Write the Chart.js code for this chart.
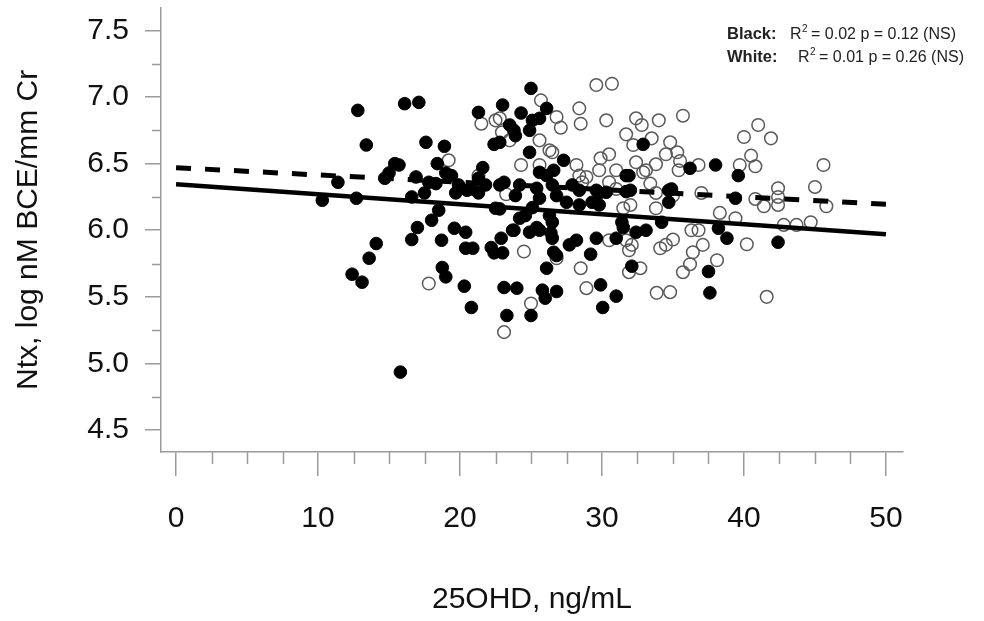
<!DOCTYPE html>
<html>
<head>
<meta charset="utf-8">
<title>Ntx vs 25OHD</title>
<script src="https://cdn.jsdelivr.net/npm/chart.js@4.4.1/dist/chart.umd.min.js"></script>
<style>
    html, body { margin: 0; padding: 0; background: #fff; }
    #chart { display: block; }
</style>
</head>
<body>
<canvas id="chart" width="984" height="621"></canvas>
<script>
// Axis ticks
const xTicks = [0, 10, 20, 30, 40, 50];
const xMinorTicks = [2.5, 5, 7.5, 12.5, 15, 17.5, 22.5, 25, 27.5, 32.5, 35, 37.5, 42.5, 45, 47.5];
const yTicks = [4.5, 5.0, 5.5, 6.0, 6.5, 7.0, 7.5];
const yMinorTicks = [4.75, 5.25, 5.75, 6.25, 6.75, 7.25];

// Black participants (filled circles)
const blackX = [12.8, 16.1, 17.1, 21.3, 13.4, 17.6, 18.9, 22.4, 15.4, 15.7, 18.4, 21.6, 15.0, 14.7, 11.4, 16.9, 19.0, 19.4, 17.8, 18.3,
    17.5, 19.7, 19.9, 20.5, 20.9, 21.3, 10.3, 12.7, 16.6, 18.5, 18.0, 17.0, 19.6, 20.4, 22.5, 21.3, 21.8, 16.6, 14.1, 13.6,
    12.4, 13.1, 18.7, 20.4, 20.9, 22.2, 22.4, 18.75, 19.0, 20.3, 20.8, 15.8, 23.8, 25.4, 26.4, 26.5, 27.7, 28.2, 26.6, 26.8,
    29.2, 29.6, 31.0, 31.5, 32.4, 22.9, 23.0, 26.1, 32.1, 23.1, 24.0, 25.8, 26.0, 26.8, 23.3, 25.0, 29.9, 31.0, 30.05, 38.2,
    38.8, 42.4, 37.5, 37.6, 25.0, 23.0, 24.3, 26.1, 23.5, 23.8, 23.9, 25.1, 25.6, 24.9, 22.8, 24.9, 27.3, 25.6, 26.1, 26.6,
    31.7, 31.9, 32.9, 36.2, 23.1, 22.8, 24.2, 25.4, 27.9, 28.4, 26.5, 26.8, 29.6, 29.8, 30.3, 31.7, 32.0, 34.7, 34.9, 34.7,
    23.9, 25.6, 27.5, 29.3, 29.8, 28.4, 25.1, 24.6, 24.2, 22.8, 26.3, 26.5, 31.4, 34.2, 23.7, 24.9, 25.6, 33.1, 38.0, 39.6,
    39.4];
const blackY = [6.90, 6.95, 6.96, 6.885, 6.64, 6.66, 6.63, 6.645, 6.50, 6.49, 6.50, 6.47, 6.43, 6.39, 6.36, 6.40, 6.43, 6.41, 6.36, 6.35,
    6.28, 6.28, 6.34, 6.30, 6.31, 6.28, 6.225, 6.24, 6.25, 6.15, 6.075, 6.02, 6.015, 5.985, 6.165, 6.39, 6.34, 5.93, 5.90, 5.79,
    5.67, 5.61, 5.925, 5.865, 5.865, 5.87, 5.83, 5.72, 5.65, 5.58, 5.42, 4.935, 6.0, 6.02, 5.98, 5.94, 5.89, 5.925, 5.835, 5.81,
    5.82, 5.94, 5.94, 6.02, 5.985, 5.94, 5.83, 5.715, 5.73, 5.57, 5.565, 5.55, 5.49, 5.54, 5.36, 5.36, 5.59, 5.505, 5.42, 6.015,
    5.94, 5.91, 5.69, 5.53, 7.065, 6.94, 6.88, 6.915, 6.79, 6.75, 6.71, 6.825, 6.84, 6.75, 6.66, 6.585, 6.525, 6.435, 6.41, 6.45,
    6.41, 6.41, 6.645, 6.465, 6.36, 6.34, 6.34, 6.315, 6.34, 6.30, 6.34, 6.26, 6.30, 6.28, 6.285, 6.29, 6.30, 6.30, 6.31, 6.21,
    6.26, 6.24, 6.21, 6.21, 6.19, 6.19, 6.17, 6.11, 6.09, 6.16, 6.11, 6.06, 6.06, 6.06, 6.0, 5.985, 6.0, 6.0, 6.49, 6.41,
    6.24];

// White participants (open circles)
const whiteX = [17.8, 24.5, 26.8, 28.5, 28.9, 25.0, 23.1, 30.5, 31.7, 32.1, 31.9, 32.7, 31.9, 33.85, 34.8, 34.1, 34.5, 35.0, 35.7, 36.2,
    36.4, 37.1, 38.1, 40.2, 41.6, 29.6, 30.7, 28.4, 25.7, 26.8, 27.1, 22.8, 28.5, 30.3, 32.4, 32.8, 34.0, 35.7, 31.7, 33.5,
    32.2, 34.8, 35.3, 34.5, 35.5, 25.6, 26.3, 26.5, 23.5, 22.95, 29.9, 30.5, 32.4, 33.1, 33.8, 24.3, 25.6, 28.2, 28.9, 29.8,
    31.0, 32.9, 35.4, 32.0, 33.8, 35.0, 23.25, 31.5, 36.3, 41.0, 40.0, 41.9, 40.5, 39.7, 40.8, 45.6, 45.0, 42.4, 42.4, 42.4,
    40.8, 41.4, 45.8, 38.3, 39.4, 42.8, 43.7, 44.7, 36.8, 37.0, 36.8, 21.5, 22.5, 19.2, 21.3, 28.4, 30.5, 31.0, 33.4, 33.8,
    28.6];
const whiteY = [5.60, 5.84, 5.79, 5.715, 5.565, 5.45, 5.235, 5.925, 5.925, 5.89, 5.85, 5.715, 5.685, 5.53, 5.535, 5.865, 5.89, 5.93, 5.685, 5.745,
    5.835, 5.89, 5.775, 5.895, 5.50, 7.09, 7.10, 6.915, 6.975, 6.85, 6.77, 6.84, 6.80, 6.825, 6.84, 6.79, 6.825, 6.86, 6.72, 6.69,
    6.64, 6.66, 6.585, 6.57, 6.52, 6.675, 6.60, 6.585, 6.675, 6.735, 6.54, 6.57, 6.51, 6.45, 6.495, 6.49, 6.49, 6.49, 6.40, 6.45,
    6.45, 6.435, 6.45, 6.19, 6.165, 6.26, 6.27, 6.165, 6.0, 6.79, 6.70, 6.69, 6.56, 6.49, 6.48, 6.49, 6.325, 6.315, 6.25, 6.19,
    6.235, 6.18, 6.18, 6.13, 6.09, 6.04, 6.04, 6.06, 6.49, 6.28, 6.0, 6.80, 6.825, 6.525, 6.41, 6.41, 6.36, 6.31, 6.35, 6.28,
    6.36];

// Regression lines (end points at x = 0 and x = 50)
const fitX = [0, 50];
const solidFitY = [6.345, 5.97];
const dashedFitY = [6.47, 6.195];

const AXIS_COLOR = '#9b9b9b';
const TEXT_COLOR = '#111111';
const FONT = "'Liberation Sans', Arial, sans-serif";

function toPoints(xs, ys) {
    return xs.map((x, i) => ({ x: x, y: ys[i] }));
}

// Minor ticks and the R² notes
const extrasPlugin = {
    id: 'extras',
    afterDraw(chart) {
        const ctx = chart.ctx;
        const xScale = chart.scales.x;
        const yScale = chart.scales.y;

        ctx.save();
        ctx.strokeStyle = AXIS_COLOR;
        ctx.lineWidth = 1.5;
        ctx.beginPath();
        xMinorTicks.forEach(v => {
            const px = Math.round(xScale.getPixelForValue(v)) + 0.5;
            ctx.moveTo(px, xScale.top);
            ctx.lineTo(px, xScale.top + 12);
        });
        yMinorTicks.forEach(v => {
            const py = Math.round(yScale.getPixelForValue(v)) + 0.5;
            ctx.moveTo(yScale.right, py);
            ctx.lineTo(yScale.right - 9, py);
        });
        ctx.stroke();

        // Stats text
        ctx.fillStyle = '#222';
        ctx.textBaseline = 'alphabetic';
        const rows = [
            { label: 'Black:', rx: 790, y: 38.5, rest: ' = 0.02 p = 0.12 (NS)', end: 970 },
            { label: 'White:', rx: 798, y: 62, rest: ' = 0.01 p = 0.26 (NS)', end: 976 }
        ];
        rows.forEach(r => {
            ctx.font = 'bold 16.5px ' + FONT;
            ctx.fillText(r.label, 727, r.y, 52);
            ctx.font = '16px ' + FONT;
            ctx.fillText('R', r.rx, r.y);
            const rw = ctx.measureText('R').width;
            ctx.font = '10px ' + FONT;
            ctx.fillText('2', r.rx + rw + 0.5, r.y - 7);
            ctx.font = '16px ' + FONT;
            const sx = r.rx + rw + 5;
            ctx.fillText(r.rest, sx, r.y, r.end - sx);
        });
        ctx.restore();
    }
};

const ctx = document.getElementById('chart').getContext('2d');
new Chart(ctx, {
    type: 'scatter',
    data: {
        datasets: [
            {
                label: 'Black fit',
                data: toPoints(fitX, solidFitY),
                showLine: true,
                borderColor: '#000',
                borderWidth: 4.5,
                pointRadius: 0,
                order: 0
            },
            {
                label: 'White fit',
                data: toPoints(fitX, dashedFitY),
                showLine: true,
                borderColor: '#000',
                borderWidth: 5,
                borderDash: [15, 14],
                pointRadius: 0,
                order: 0
            },
            {
                label: 'Black',
                data: toPoints(blackX, blackY),
                pointRadius: 6.3,
                pointBackgroundColor: '#000',
                pointBorderColor: '#000',
                pointBorderWidth: 1,
                order: 1
            },
            {
                label: 'White',
                data: toPoints(whiteX, whiteY),
                pointRadius: 6.3,
                pointBackgroundColor: 'rgba(255,255,255,0)',
                pointBorderColor: '#5a5a5a',
                pointBorderWidth: 1.5,
                order: 2
            }
        ]
    },
    options: {
        responsive: false,
        animation: false,
        devicePixelRatio: 1,
        layout: { padding: { top: 7, right: 81, left: 0, bottom: 0 } },
        plugins: {
            legend: { display: false },
            tooltip: { enabled: false }
        },
        scales: {
            x: {
                type: 'linear',
                min: -1.06,
                max: 51.2,
                afterBuildTicks: scale => { scale.ticks = xTicks.map(v => ({ value: v })); },
                afterFit: scale => {
                    scale.height = 169;
                    scale.paddingLeft = 0;
                    scale.paddingRight = 0;
                },
                grid: {
                    drawOnChartArea: false,
                    drawTicks: true,
                    tickLength: 24,
                    color: AXIS_COLOR,
                    lineWidth: 1.5
                },
                border: { display: true, color: AXIS_COLOR, width: 1.5 },
                ticks: {
                    padding: 25,
                    color: TEXT_COLOR,
                    maxRotation: 0,
                    font: { family: FONT, size: 30 },
                    callback: v => String(v)
                },
                title: {
                    display: true,
                    text: '25OHD, ng/mL',
                    color: TEXT_COLOR,
                    font: { family: FONT, size: 30 },
                    padding: { top: 0, bottom: 3 }
                }
            },
            y: {
                type: 'linear',
                min: 4.335,
                max: 7.67,
                afterBuildTicks: scale => { scale.ticks = yTicks.map(v => ({ value: v })); },
                afterFit: scale => {
                    scale.width = 161;
                    scale.paddingTop = 0;
                    scale.paddingBottom = 0;
                },
                grid: {
                    drawOnChartArea: false,
                    drawTicks: true,
                    tickLength: 16,
                    color: AXIS_COLOR,
                    lineWidth: 1.5
                },
                border: { display: true, color: AXIS_COLOR, width: 1.5 },
                ticks: {
                    padding: 16,
                    color: TEXT_COLOR,
                    font: { family: FONT, size: 30 },
                    callback: v => v.toFixed(1)
                },
                title: {
                    display: true,
                    text: 'Ntx, log nM BCE/mm Cr',
                    color: TEXT_COLOR,
                    font: { family: FONT, size: 30 },
                    padding: { top: 11, bottom: 0 }
                }
            }
        }
    },
    plugins: [extrasPlugin]
});
</script>
</body>
</html>
